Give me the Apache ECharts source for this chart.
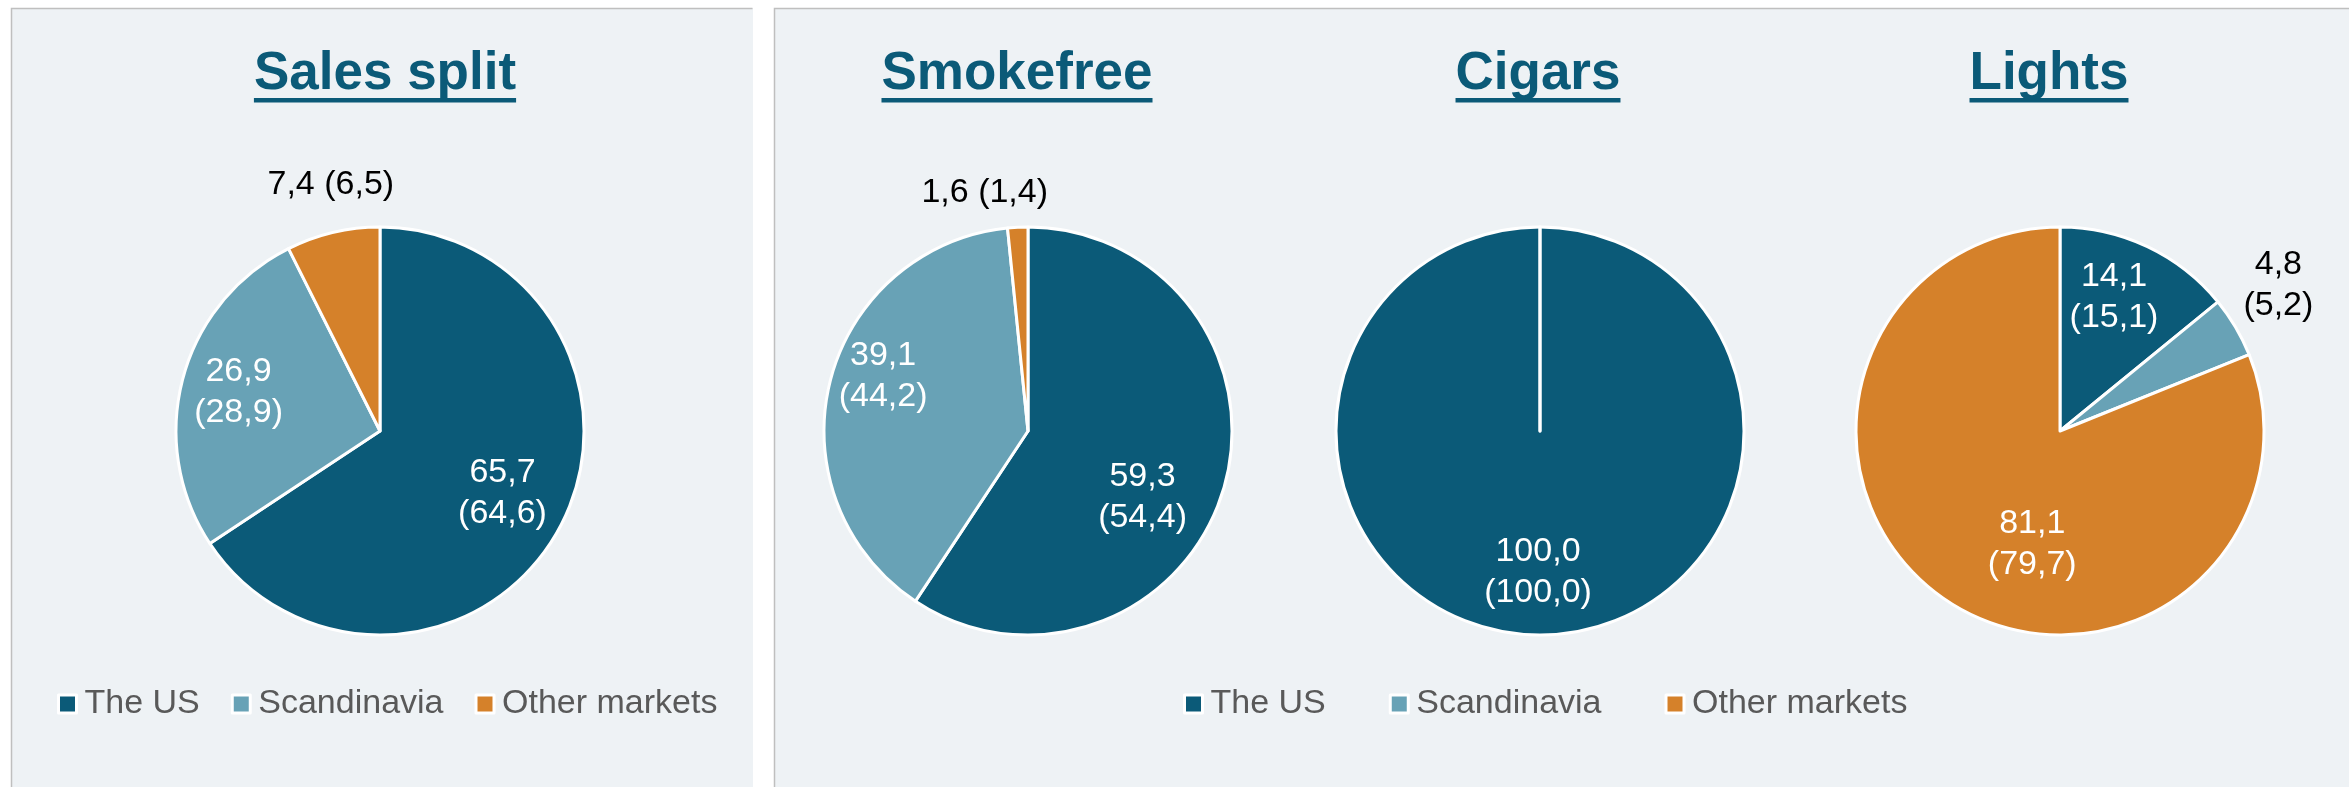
<!DOCTYPE html>
<html>
<head>
<meta charset="utf-8">
<title>Sales split</title>
<script src="https://cdn.jsdelivr.net/npm/echarts@6/dist/echarts.min.js"></script>
<style>
  html, body { margin: 0; padding: 0; background: #fff; }
  #chart { width: 2349px; height: 787px; }
</style>
</head>
<body>
<div id="chart"></div>
<script>
// data, current year and (previous year)
const categories = ['The US', 'Scandinavia', 'Other markets']
const titles = ['Sales split', 'Smokefree', 'Cigars', 'Lights']
const salesSplit = [65.7, 26.9, 7.4]
const salesSplitPrev = [64.6, 28.9, 6.5]
const smokefree = [59.3, 39.1, 1.6]
const smokefreePrev = [54.4, 44.2, 1.4]
const cigars = [100.0, 0, 0]
const cigarsPrev = [100.0, 0, 0]
const lights = [14.1, 4.8, 81.1]
const lightsPrev = [15.1, 5.2, 79.7]

const colors = ['#0B5A78', '#68A2B6', '#D5812A']
const font = "'Liberation Sans', Arial, sans-serif"

// layout of each pie and how its labels sit
const pies = [
  { cur: salesSplit, prev: salesSplitPrev, center: [380, 431], title: 385,
    dark: [2], oneLine: [2], nudge: [[30, 12], [-40, -12], [-25, -144]] },
  { cur: smokefree, prev: smokefreePrev, center: [1028, 431], title: 1017,
    dark: [2], oneLine: [2], nudge: [[14, 36], [-43, -30], [-38, -134]] },
  { cur: cigars, prev: cigarsPrev, center: [1540, 431], title: 1538,
    dark: [], oneLine: [], nudge: [[-2, 36], [0, 0], [0, 0]] },
  { cur: lights, prev: lightsPrev, center: [2060, 431], title: 2049,
    dark: [1], oneLine: [], nudge: [[9, -39], [128, -92], [31, 26]] }
]

const fmt = v => v.toFixed(1).replace('.', ',')

const ctx = document.createElement('canvas').getContext('2d')
ctx.font = 'bold 53px ' + font

let myChart = echarts.init(document.getElementById('chart'))

let graphic = [
  // panels
  { type: 'rect', shape: { x: 11, y: 8, width: 742, height: 800 }, style: { fill: '#EEF2F5' }, z: -10 },
  { type: 'rect', shape: { x: 774, y: 8, width: 1600, height: 800 }, style: { fill: '#EEF2F5' }, z: -10 },
  { type: 'polyline', shape: { points: [[11.5, 800], [11.5, 8.5], [752.5, 8.5]] }, style: { stroke: '#BFBFBF', lineWidth: 1.5, fill: null }, z: -9 },
  { type: 'polyline', shape: { points: [[774.5, 800], [774.5, 8.5], [2349, 8.5]] }, style: { stroke: '#BFBFBF', lineWidth: 1.5, fill: null }, z: -9 }
]

pies.forEach((p, i) => {
  let w = ctx.measureText(titles[i]).width
  graphic.push({
    type: 'text',
    x: p.title,
    y: 74,
    style: {
      text: titles[i],
      font: 'bold 53px ' + font,
      fill: '#0B5A78',
      align: 'center',
      verticalAlign: 'middle'
    }
  })
  graphic.push({
    type: 'rect',
    shape: { x: p.title - w / 2, y: 98, width: w, height: 4.5 },
    style: { fill: '#0B5A78' }
  })
})

let series = pies.map((p, i) => ({
  type: 'pie',
  name: titles[i],
  center: p.center,
  radius: 204,
  startAngle: 90,
  clockwise: true,
  avoidLabelOverlap: false,
  itemStyle: { borderColor: '#fff', borderWidth: 3 },
  emphasis: { disabled: true },
  labelLine: { show: false },
  label: {
    position: 'inside',
    fontFamily: font,
    fontSize: 34,
    lineHeight: 41,
    formatter: params => {
      let k = params.dataIndex
      let sep = p.oneLine.includes(k) ? ' ' : '\n'
      return fmt(p.cur[k]) + sep + '(' + fmt(p.prev[k]) + ')'
    }
  },
  labelLayout: params => ({
    dx: p.nudge[params.dataIndex][0],
    dy: p.nudge[params.dataIndex][1]
  }),
  data: categories.map((name, k) => ({
    name: name,
    value: p.cur[k],
    itemStyle: { color: colors[k] },
    label: {
      show: p.cur[k] > 0,
      color: p.dark.includes(k) ? '#000' : '#fff'
    }
  }))
}))

let legendBase = {
  orient: 'horizontal',
  top: 681,
  itemWidth: 18,
  itemHeight: 18,
  icon: 'rect',
  data: categories,
  selectedMode: false,
  itemStyle: { borderColor: '#fff', borderWidth: 3 },
  textStyle: {
    color: '#595959',
    fontFamily: font,
    fontSize: 34,
    lineHeight: 36,
    padding: [0, 0, 0, 3]
  }
}

let option = {
  animation: false,
  backgroundColor: '#fff',
  color: colors,
  graphic: graphic,
  legend: [
    Object.assign({}, legendBase, { left: 52, itemGap: 31 }),
    Object.assign({}, legendBase, { left: 1178, itemGap: 63 })
  ],
  series: series
}

myChart.setOption(option, true)
</script>
</body>
</html>
